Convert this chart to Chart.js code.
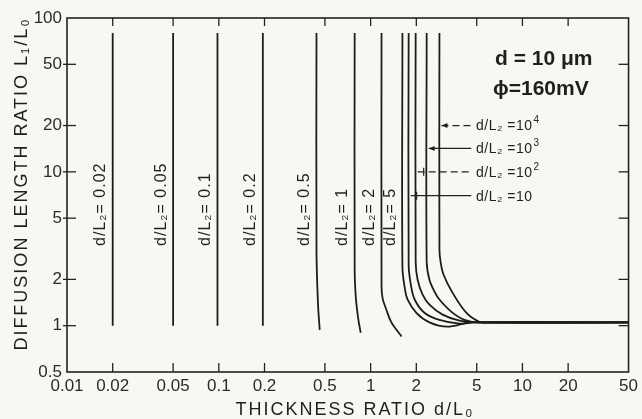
<!DOCTYPE html>
<html lang="en">
<head>
<meta charset="utf-8">
<title>Diffusion length ratio</title>
<script src="https://cdn.jsdelivr.net/npm/chart.js@4.4.1/dist/chart.umd.min.js"></script>
<style>
  body { margin: 0; background: #f8f8f3; }
  canvas { display: block; }
</style>
</head>
<body>
<canvas id="grafico-difusao" width="642" height="419"></canvas>
<script>
// Marcas dos eixos
const ticksEspessura = [0.01, 0.02, 0.05, 0.1, 0.2, 0.5, 1, 2, 5, 10, 20, 50];
const ticksDifusao = [0.5, 1, 2, 5, 10, 20, 50, 100];

// Razões d/L2 de cada curva
const razoes = ['0.02', '0.05', '0.1', '0.2', '0.5', '1', '2', '5', '10', '10²', '10³', '10⁴'];

// Curvas: espessura d/L0 (x) e razão L1/L0 (y)
const x002 = [0.02, 0.02];
const y002 = [80, 1];
const x005 = [0.05, 0.05];
const y005 = [80, 1];
const x01 = [0.098, 0.098];
const y01 = [80, 1];
const x02 = [0.195, 0.195];
const y02 = [80, 1];
const x05 = [0.44, 0.44, 0.45, 0.462];
const y05 = [80, 3, 1.4, 0.94];
const x1 = [0.785, 0.785, 0.80, 0.83, 0.86];
const y1 = [80, 2.3, 1.5, 1.1, 0.9];
const x2 = [1.18, 1.18, 1.20, 1.27, 1.37, 1.6];
const y2 = [80, 1.8, 1.5, 1.27, 1.05, 0.85];
const x5 = [1.62, 1.62, 1.68, 1.75, 2.0, 2.44, 3.2, 4.6, 50];
const y5 = [80, 2.4, 1.75, 1.48, 1.21, 1.05, 0.985, 1.05, 1.05];
const x10 = [1.78, 1.78, 1.84, 1.95, 2.27, 2.84, 3.85, 4.8, 50];
const y10 = [80, 2.5, 1.85, 1.48, 1.21, 1.09, 1.03, 1.05, 1.05];
const x100 = [1.98, 1.98, 2.04, 2.2, 2.44, 2.98, 3.85, 5.0, 50];
const y100 = [80, 2.6, 1.99, 1.59, 1.37, 1.18, 1.078, 1.05, 1.05];
const x1000 = [2.34, 2.34, 2.44, 2.64, 2.84, 3.41, 4.15, 5.1, 50];
const y1000 = [80, 2.6, 1.99, 1.66, 1.48, 1.23, 1.09, 1.05, 1.05];
const x10000 = [2.84, 2.84, 2.89, 3.02, 3.46, 4.28, 5.2, 5.9, 50];
const y10000 = [80, 3.1, 2.6, 2.15, 1.64, 1.21, 1.06, 1.05, 1.05];

const curvasX = [x002, x005, x01, x02, x05, x1, x2, x5, x10, x100, x1000, x10000];
const curvasY = [y002, y005, y01, y02, y05, y1, y2, y5, y10, y100, y1000, y10000];

const corTraco = '#1c1c1c';
const fonte = '"Liberation Sans", Arial, sans-serif';

// Monta os datasets a partir das listas
const datasets = curvasX.map((xs, i) => ({
    label: 'd/L₂ = ' + razoes[i],
    data: xs.map((v, j) => ({ x: v, y: curvasY[i][j] })),
    showLine: true,
    borderColor: corTraco,
    borderWidth: 1.8,
    pointRadius: 0,
    tension: 0.35,
    fill: false,
    clip: 0,
}));

// Chamadas das curvas d/L2 = 10 ... 10^4 (posição y em L1/L0)
const chamadaY = { 8: 7, 9: 10, 10: 14.2, 11: 20 };
const chamadaTracejada = { 8: false, 9: true, 10: false, 11: true };
const expoentes = { '²': '2', '³': '3', '⁴': '4' };

function linha(ctx, x0, y0, x1, y1) {
    ctx.beginPath();
    ctx.moveTo(x0, y0);
    ctx.lineTo(x1, y1);
    ctx.stroke();
}

// Escreve "10ⁿ" com o expoente em tamanho legível
function textoComExpoente(ctx, texto, x, y) {
    const ultimo = texto.slice(-1);
    if (!expoentes[ultimo]) {
        ctx.fillText(texto, x, y);
        return;
    }
    const base = texto.slice(0, -1);
    ctx.fillText(base, x, y);
    const w = ctx.measureText(base).width;
    const fonteAnterior = ctx.font;
    ctx.font = '10px ' + fonte;
    ctx.fillText(expoentes[ultimo], x + w + 1, y - 6);
    ctx.font = fonteAnterior;
}

// Moldura, marcas internas e textos
const moldura = {
    id: 'moldura',
    afterDatasetsDraw(chart) {
        const { ctx, chartArea: a, scales: { x, y } } = chart;
        ctx.save();
        ctx.strokeStyle = '#222';
        ctx.fillStyle = '#1f1f1f';
        ctx.lineWidth = 1.6;
        ctx.strokeRect(a.left, a.top, a.right - a.left, a.bottom - a.top);

        ctx.lineWidth = 1.3;
        ticksEspessura.slice(1, -1).forEach(v => {
            const px = x.getPixelForValue(v);
            linha(ctx, px, a.bottom, px, a.bottom - 9);
            linha(ctx, px, a.top, px, a.top + 8);
        });
        ticksDifusao.slice(1, -1).forEach(v => {
            const py = y.getPixelForValue(v);
            linha(ctx, a.left - 4, py, a.left + 9, py);
            linha(ctx, a.right - 10, py, a.right, py);
        });

        // rótulos verticais ao lado das curvas
        ctx.font = '16px ' + fonte;
        ctx.letterSpacing = '1px';
        ctx.textAlign = 'left';
        ctx.textBaseline = 'middle';
        const baseRotulo = y.getPixelForValue(3.3);
        for (let i = 0; i < 8; i++) {
            const px = x.getPixelForValue(curvasX[i][0]) - 12;
            ctx.save();
            ctx.translate(px, baseRotulo);
            ctx.rotate(-Math.PI / 2);
            ctx.fillText('d/L₂= ' + razoes[i], 0, 0);
            ctx.restore();
        }

        // chamadas com seta
        ctx.font = '14px ' + fonte;
        ctx.letterSpacing = '0.5px';
        const fimChamada = x.getPixelForValue(4.6);
        const inicioTexto = x.getPixelForValue(4.95);
        ctx.lineWidth = 1.2;
        for (let i = 8; i < 12; i++) {
            const py = y.getPixelForValue(chamadaY[i]);
            const ponta = x.getPixelForValue(curvasX[i][0]) + 2;
            ctx.setLineDash(chamadaTracejada[i] ? [7, 4] : []);
            linha(ctx, ponta, py, fimChamada, py);
            ctx.setLineDash([]);
            if (i >= 10) {
                ctx.beginPath();
                ctx.moveTo(ponta, py);
                ctx.lineTo(ponta + 6, py - 2.5);
                ctx.lineTo(ponta + 6, py + 2.5);
                ctx.closePath();
                ctx.fill();
            } else {
                linha(ctx, ponta + 6, py - 4, ponta + 6, py + 4);
            }
            textoComExpoente(ctx, 'd/L₂ =' + razoes[i], inicioTexto, py + 1);
        }

        // parâmetros da amostra
        ctx.font = 'bold 21px ' + fonte;
        ctx.letterSpacing = '0px';
        ctx.textBaseline = 'alphabetic';
        ctx.fillText('d = 10 μm', a.left + 428, a.top + 47);
        ctx.fillText('ϕ=160mV', a.left + 426, a.top + 77);

        // títulos dos eixos
        ctx.font = '18px ' + fonte;
        ctx.letterSpacing = '2px';
        ctx.textAlign = 'center';
        ctx.fillText('THICKNESS RATIO d/L₀', 355, 415);
        ctx.save();
        ctx.translate(27, 184);
        ctx.rotate(-Math.PI / 2);
        ctx.fillText('DIFFUSION LENGTH RATIO L₁/L₀', 0, 0);
        ctx.restore();
        ctx.letterSpacing = '0px';
        ctx.restore();
    }
};

new Chart(document.getElementById('grafico-difusao'), {
    type: 'scatter',
    data: { datasets: datasets },
    options: {
        responsive: false,
        animation: false,
        devicePixelRatio: 1,
        layout: { padding: { top: 18, right: 13, left: 0, bottom: 0 } },
        scales: {
            x: {
                type: 'logarithmic',
                min: 0.01,
                max: 50,
                grid: { display: false, drawTicks: false },
                border: { display: false },
                afterBuildTicks: s => { s.ticks = ticksEspessura.map(v => ({ value: v })); },
                afterFit: s => { s.height = 47; },
                ticks: {
                    autoSkip: false,
                    maxRotation: 0,
                    padding: 4,
                    color: '#2a2a2a',
                    font: { family: fonte, size: 17 },
                    callback: v => String(v),
                },
            },
            y: {
                type: 'logarithmic',
                min: 0.5,
                max: 100,
                grid: { display: false, drawTicks: false },
                border: { display: false },
                afterBuildTicks: s => { s.ticks = ticksDifusao.map(v => ({ value: v })); },
                afterFit: s => { s.width = 67; },
                ticks: {
                    autoSkip: false,
                    padding: 5,
                    color: '#2a2a2a',
                    font: { family: fonte, size: 17 },
                    callback: v => String(v),
                },
            },
        },
        plugins: {
            legend: { display: false },
            tooltip: { enabled: false },
        },
    },
    plugins: [moldura],
});
</script>
</body>
</html>
